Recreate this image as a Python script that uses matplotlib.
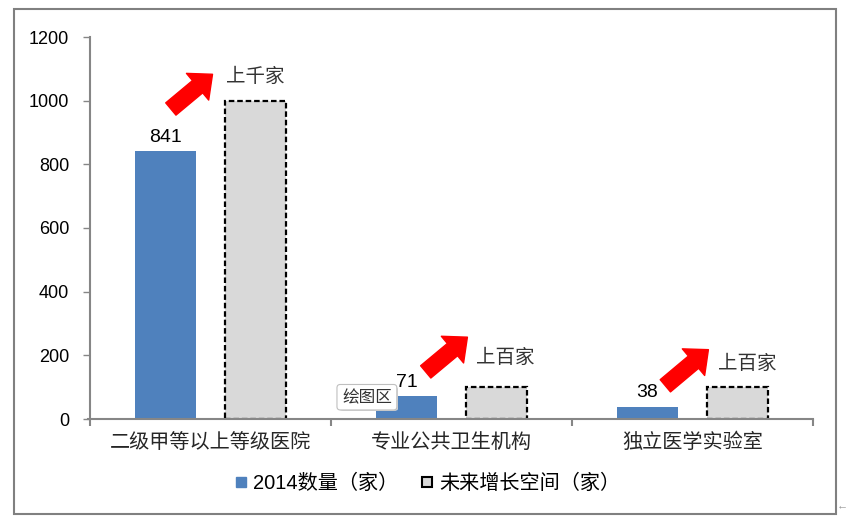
import numpy as np
import matplotlib.pyplot as plt
from matplotlib.lines import Line2D
from matplotlib.patches import Rectangle, FancyBboxPatch
from matplotlib.text import OffsetFrom

plt.rcParams["font.family"] = ["Liberation Sans", "Noto Sans CJK SC", "DejaVu Sans"]

# Data
categories = ["二级甲等以上等级医院", "专业公共卫生机构", "独立医学实验室"]
counts_2014 = [841, 71, 38]
future_space = [1000, 100, 100]
future_labels = ["上千家", "上百家", "上百家"]
series_names = ["2014数量（家）", "未来增长空间（家）"]
y_ticks = [0, 200, 400, 600, 800, 1000, 1200]

# Arrow / label offsets (points) from the top centre of each grey bar
arrow_tips = [(-31, 19), (-21, 36), (-21, 27)]
arrow_tails = [(-61, -6), (-51, 11), (-52, 1)]
label_offsets = [(-21, 17), (-15, 21), (-14, 17)]

blue = "#4f81bd"
grey = "#d9d9d9"
axis_col = "#868686"

fig = plt.figure(figsize=(8.47, 5.24), dpi=100)
ax = fig.add_axes([90 / 847, 105 / 524, 723 / 847, 382 / 524])

x = np.arange(len(categories))
w = 0.25
off = 0.187

bars1 = ax.bar(x - off, counts_2014, w, color=blue, zorder=2)
bars2 = ax.bar(x + off, future_space, w, color=grey, edgecolor="black",
               linestyle=(0, (2.5, 1.3)), linewidth=1.6, zorder=2)

# Value labels on the blue bars
for b, v in zip(bars1, counts_2014):
    ax.annotate(str(v), (b.get_x() + b.get_width() / 2, v),
                xytext=(0, 4), textcoords="offset points",
                ha="center", va="bottom", fontsize=14, color="black")

# Red arrows and growth labels
for b, lab, tip, tail, lo in zip(bars2, future_labels, arrow_tips,
                                 arrow_tails, label_offsets):
    ref = OffsetFrom(b, (0.5, 1.0), unit="points")
    ax.annotate("", xy=tip, xycoords=ref, xytext=tail, textcoords=ref,
                arrowprops=dict(arrowstyle="simple,head_length=1.4,"
                                           "head_width=2.5,tail_width=1.15",
                                mutation_scale=10, fc="red", ec="red",
                                shrinkA=0, shrinkB=0), zorder=3)
    ax.annotate(lab, xy=lo, xycoords=ref, ha="left", va="center",
                fontsize=14, color="#333333")

ax.set_xlim(-0.5, len(categories) - 0.5)
ax.set_ylim(0, 1200)
ax.set_yticks(y_ticks)
ax.tick_params(axis="y", labelsize=13, length=5, color=axis_col, width=1,
               pad=10)

ax.set_xticks(x)
ax.set_xticklabels(categories, fontsize=14.5, color="#262626")
ax.tick_params(axis="x", length=0, pad=10)
ax.set_xticks(np.arange(len(categories) + 1) - 0.5, minor=True)
ax.tick_params(axis="x", which="minor", length=5, color=axis_col, width=1.5)

for s in ["top", "right"]:
    ax.spines[s].set_visible(False)
for s in ["left", "bottom"]:
    ax.spines[s].set_color(axis_col)
    ax.spines[s].set_linewidth(1.5)
ax.spines["bottom"].set_bounds(-0.507, len(categories) - 0.5)

# "绘图区" tooltip with a soft shadow
ax.add_patch(FancyBboxPatch((0.345, 0.021), 0.081, 0.063,
                            boxstyle="round,pad=0,rounding_size=0.006",
                            transform=ax.transAxes, fc="#d4d4d4", ec="none",
                            zorder=4, clip_on=False))
ax.text(0.383, 0.057, "绘图区", transform=ax.transAxes,
        ha="center", va="center", fontsize=12, color="#333333", zorder=5,
        bbox=dict(boxstyle="round,pad=0.3,rounding_size=0.2",
                  fc="white", ec="#bfbfbf", lw=0.8))

# Legend
handles = [
    Line2D([], [], marker="s", linestyle="none", markersize=7,
           markerfacecolor=blue, markeredgecolor=blue),
    Line2D([], [], marker="s", linestyle="none", markersize=7,
           markerfacecolor=grey, markeredgecolor="black",
           markeredgewidth=1.5),
]
fig.legend(handles, series_names, loc="center", bbox_to_anchor=(0.505, 0.078),
           ncol=2, frameon=False, fontsize=14.5, handlelength=0.6,
           handletextpad=0.3, columnspacing=1.15)

# Outer chart frame
fig.patches.append(Rectangle((14 / 847, 10 / 524), 822 / 847, 505 / 524,
                             transform=fig.transFigure, fill=False,
                             ec="#808080", lw=1.5))
fig.text(842 / 847, 19 / 524, "←", fontsize=8, color="#999999",
         ha="center", va="center")

fig.savefig("out.png", dpi=100)
